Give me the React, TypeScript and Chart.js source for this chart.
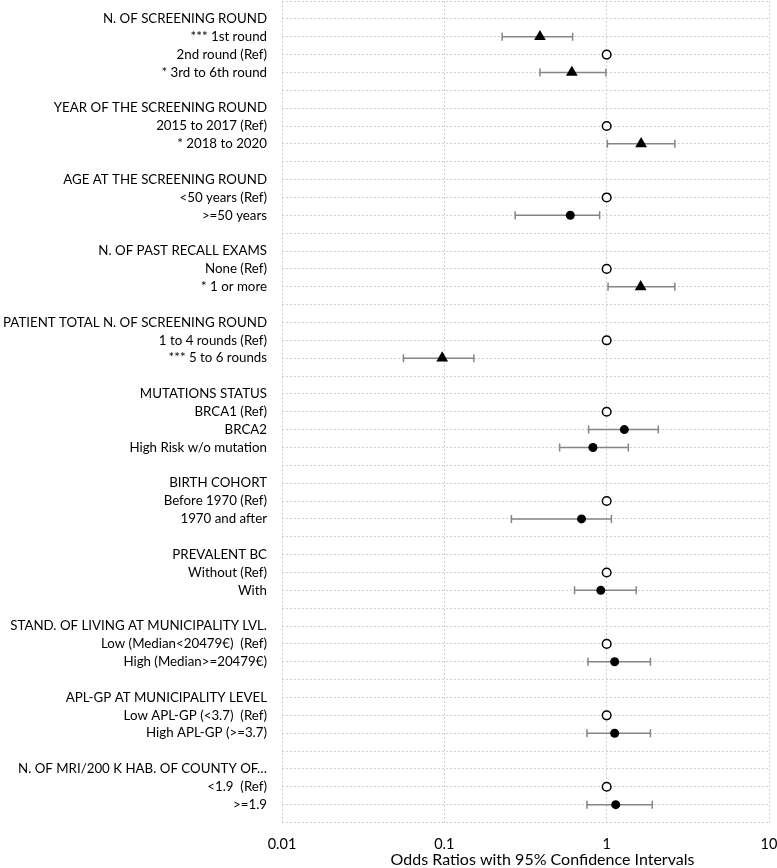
import React, { useEffect, useRef } from "react";
import { Chart, registerables } from "chart.js";

Chart.register(...registerables);

const rowLabels: string[] = [
  "N. OF SCREENING ROUND",
  "*** 1st round",
  "2nd round (Ref)",
  "* 3rd to 6th round",
  "",
  "YEAR OF THE SCREENING ROUND",
  "2015 to 2017 (Ref)",
  "* 2018 to 2020",
  "",
  "AGE AT THE SCREENING ROUND",
  "<50 years (Ref)",
  ">=50 years",
  "",
  "N. OF PAST RECALL EXAMS",
  "None (Ref)",
  "* 1 or more",
  "",
  "PATIENT TOTAL N. OF SCREENING ROUND",
  "1 to 4 rounds (Ref)",
  "*** 5 to 6 rounds",
  "",
  "MUTATIONS STATUS",
  "BRCA1 (Ref)",
  "BRCA2",
  "High Risk w/o mutation",
  "",
  "BIRTH COHORT",
  "Before 1970 (Ref)",
  "1970 and after",
  "",
  "PREVALENT BC",
  "Without (Ref)",
  "With",
  "",
  "STAND. OF LIVING AT MUNICIPALITY LVL.",
  "Low (Median<20479€)  (Ref)",
  "High (Median>=20479€)",
  "",
  "APL-GP AT MUNICIPALITY LEVEL",
  "Low APL-GP (<3.7)  (Ref)",
  "High APL-GP (>=3.7)",
  "",
  "N. OF MRI/200 K HAB. OF COUNTY OF…",
  "<1.9  (Ref)",
  ">=1.9",
];

// 1-based row numbers
const refRows = [3, 7, 11, 15, 19, 23, 28, 32, 36, 40, 44];
const estRows = [2, 4, 8, 12, 16, 20, 24, 25, 29, 33, 37, 41, 45];
const estimates = [0.388, 0.61, 1.63, 0.597, 1.62, 0.097, 1.285, 0.823, 0.7, 0.92, 1.12, 1.12, 1.137];
const ciLow = [0.227, 0.388, 1.01, 0.273, 1.02, 0.056, 0.774, 0.513, 0.259, 0.634, 0.767, 0.756, 0.756];
const ciHigh = [0.617, 0.99, 2.63, 0.905, 2.63, 0.152, 2.08, 1.36, 1.07, 1.52, 1.86, 1.86, 1.91];
const significant = [true, true, true, false, true, true, false, false, false, false, false, false, false];

const xTicks = [0.01, 0.1, 1, 10];
const xTickLabels = ["0.01", "0.1", "1", "10"];
const xTitle = "Odds Ratios with 95% Confidence Intervals";

const FONT = "Lato, 'Noto Sans', sans-serif";

export default function App() {
  const ref = useRef<HTMLCanvasElement | null>(null);

  useEffect(() => {
    if (!ref.current) return;
    const totalRows = rowLabels.length + 1;

    const errorBars = {
      id: "errorBars",
      beforeDatasetsDraw(chart: any) {
        const xs = chart.scales.x;
        const ys = chart.scales.y;
        const ctx = chart.ctx;
        ctx.save();
        ctx.strokeStyle = "#858585";
        ctx.lineWidth = 1.5;
        estRows.forEach((r, i) => {
          const yp = ys.getPixelForValue(r);
          const x1 = xs.getPixelForValue(ciLow[i]);
          const x2 = xs.getPixelForValue(ciHigh[i]);
          ctx.beginPath();
          ctx.moveTo(x1, yp);
          ctx.lineTo(x2, yp);
          ctx.moveTo(x1, yp - 4);
          ctx.lineTo(x1, yp + 4);
          ctx.moveTo(x2, yp - 4);
          ctx.lineTo(x2, yp + 4);
          ctx.stroke();
        });
        ctx.restore();
      },
    };

    const axisTitle = {
      id: "axisTitle",
      afterDraw(chart: any) {
        const ctx = chart.ctx;
        const a = chart.chartArea;
        ctx.save();
        ctx.font = `16px ${FONT}`;
        ctx.fillStyle = "#000";
        ctx.textAlign = "center";
        ctx.textBaseline = "middle";
        ctx.fillText(xTitle, (a.left + a.right) / 2 + 17, chart.height - 8);
        ctx.restore();
      },
    };

    const chart = new Chart(ref.current, {
      type: "scatter",
      data: {
        datasets: [
          {
            label: "Ref",
            data: refRows.map((r) => ({ x: 1, y: r })),
            pointStyle: "circle",
            pointRadius: 4.3,
            pointBorderWidth: 1.5,
            pointBorderColor: "#000",
            pointBackgroundColor: "#fff",
          },
          {
            label: "Significant",
            data: estRows
              .map((r, i) => ({ x: estimates[i], y: r, s: significant[i] }))
              .filter((p) => p.s)
              .map((p) => ({ x: p.x, y: p.y })),
            pointStyle: "triangle",
            pointRadius: 6.8,
            pointBorderWidth: 0,
            pointBackgroundColor: "#000",
            pointBorderColor: "#000",
          },
          {
            label: "Not significant",
            data: estRows
              .map((r, i) => ({ x: estimates[i], y: r, s: significant[i] }))
              .filter((p) => !p.s)
              .map((p) => ({ x: p.x, y: p.y })),
            pointStyle: "circle",
            pointRadius: 4.5,
            pointBorderWidth: 0,
            pointBackgroundColor: "#000",
            pointBorderColor: "#000",
          },
        ],
      },
      options: {
        animation: false,
        responsive: false,
        layout: { autoPadding: false, padding: { top: 1, left: 0, right: 8, bottom: 0 } },
        plugins: {
          legend: { display: false },
          tooltip: { enabled: false },
        },
        scales: {
          x: {
            type: "logarithmic",
            min: 0.01,
            max: 10,
            afterBuildTicks(scale: any) {
              scale.ticks = xTicks.map((v) => ({ value: v }));
            },
            afterFit(scale: any) {
              scale.height = 45.5;
              scale.paddingLeft = 0;
              scale.paddingRight = 0;
            },
            ticks: {
              autoSkip: false,
              maxRotation: 0,
              padding: 13,
              color: "#000",
              font: { family: FONT, size: 14.5 },
              callback: (v: any) => {
                const i = xTicks.indexOf(Number(v));
                return i >= 0 ? xTickLabels[i] : "";
              },
            },
            grid: { color: "#d0d0d0", lineWidth: 1, drawTicks: false },
            border: { display: false, dash: [2, 2] },
          },
          y: {
            type: "linear",
            reverse: true,
            min: 0,
            max: totalRows,
            afterBuildTicks(scale: any) {
              const t: any[] = [];
              for (let i = 0; i <= totalRows; i++) t.push({ value: i });
              scale.ticks = t;
            },
            afterFit(scale: any) {
              scale.width = 282;
              scale.paddingTop = 0;
              scale.paddingBottom = 0;
            },
            ticks: {
              autoSkip: false,
              padding: 15,
              color: "#000",
              font: { family: FONT, size: 13.3 },
              callback: (v: any) => rowLabels[Number(v) - 1] ?? "",
            },
            grid: { color: "#d0d0d0", lineWidth: 1, drawTicks: false },
            border: { display: false, dash: [2, 2] },
          },
        },
      },
      plugins: [errorBars, axisTitle],
    });

    return () => chart.destroy();
  }, []);

  return (
    <div style={{ position: "absolute", left: 0, top: 0, width: 777, height: 868 }}>
      <canvas ref={ref} width={777} height={868} />
    </div>
  );
}
